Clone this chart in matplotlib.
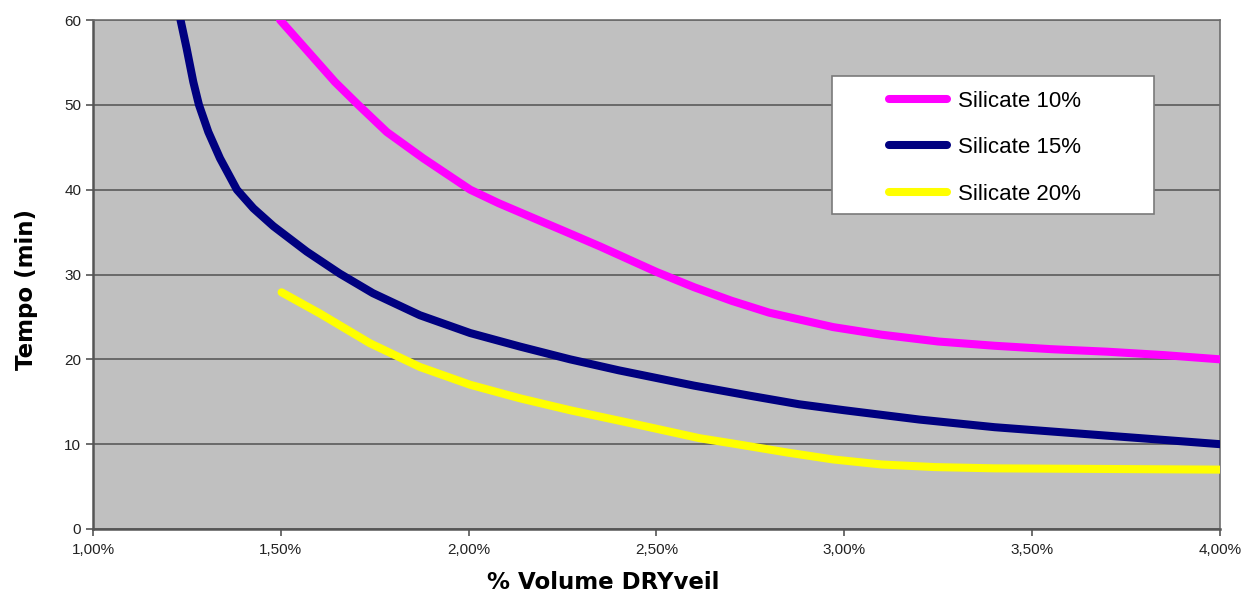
import matplotlib
matplotlib.use("Agg")
import matplotlib.pyplot as plt
from matplotlib.patches import Rectangle
from matplotlib.ticker import FuncFormatter, MultipleLocator

# values (x in % volume, y in minutes)
sil10_x = [1.498, 1.564, 1.644, 1.706, 1.782, 1.879, 2.004, 2.08, 2.17, 2.25, 2.35, 2.50, 2.60, 2.70, 2.80,
           2.97, 3.10, 3.25, 3.40, 3.55, 3.70, 3.85, 4.00]
sil10_y = [60.0, 56.7, 52.7, 50.0, 46.8, 43.7, 40.0, 38.4, 36.7, 35.2, 33.3, 30.3, 28.5, 26.9, 25.5,
           23.8, 22.9, 22.1, 21.6, 21.2, 20.9, 20.5, 20.0]

sil15_x = [1.233, 1.249, 1.267, 1.282, 1.307, 1.338, 1.383, 1.427, 1.480, 1.569, 1.657, 1.745, 1.870,
           2.004, 2.137, 2.270, 2.40, 2.50, 2.60, 2.75, 2.88, 3.00, 3.20, 3.40, 3.55, 3.70, 3.85, 4.00]
sil15_y = [60.0, 56.7, 52.7, 50.0, 46.8, 43.7, 40.0, 37.8, 35.7, 32.7, 30.1, 27.8, 25.2,
           23.1, 21.5, 20.0, 18.7, 17.8, 16.9, 15.7, 14.7, 14.0, 12.9, 12.0, 11.5, 11.0, 10.5, 10.0]

sil20_x = [1.502, 1.604, 1.737, 1.870, 2.004, 2.137, 2.270, 2.45, 2.615, 2.70, 2.85, 2.97, 3.10,
           3.24, 3.40, 3.60, 3.80, 4.00]
sil20_y = [27.9, 25.4, 21.9, 19.1, 17.0, 15.4, 14.0, 12.3, 10.7, 10.1, 9.0, 8.2, 7.6,
           7.3, 7.15, 7.1, 7.05, 7.0]

labels = ["Silicate 10%", "Silicate 15%", "Silicate 20%"]
colors = ["#ff00ff", "#000080", "#ffff00"]

fig = plt.figure(figsize=(12.5, 5.96), dpi=100)
ax = fig.add_axes([93 / 1250, 1 - 529 / 596, 1127 / 1250, 509 / 596])
ax.set_facecolor("#c0c0c0")

series = [(sil10_x, sil10_y), (sil15_x, sil15_y), (sil20_x, sil20_y)]
lines = []
for (xs, ys), lab, col in zip(series, labels, colors):
    ln, = ax.plot(xs, ys, color=col, lw=5.8, label=lab, solid_capstyle="round",
                  solid_joinstyle="round", zorder=3)
    lines.append(ln)

ax.set_xlim(1.0, 4.0)
ax.set_ylim(0, 60)
ax.xaxis.set_major_locator(MultipleLocator(0.5))
ax.yaxis.set_major_locator(MultipleLocator(10))
ax.xaxis.set_major_formatter(FuncFormatter(lambda v, p: f"{v:.2f}%".replace(".", ",")))
ax.grid(axis="y", color="#5a5a5a", lw=1.2, zorder=1)
ax.set_axisbelow(True)

for s in ax.spines.values():
    s.set_color("#6e6e6e")
    s.set_linewidth(1.2)
ax.spines["left"].set_color("#555555")
ax.spines["bottom"].set_color("#555555")
ax.spines["left"].set_linewidth(1.8)
ax.spines["bottom"].set_linewidth(1.8)

ax.tick_params(axis="both", direction="out", length=5, width=1.2, color="#555555",
               labelsize=11, labelcolor="#222222")
ax.tick_params(axis="x", pad=5)
for t in ax.get_xticklabels() + ax.get_yticklabels():
    t.set_fontfamily("Liberation Sans")

ax.set_xlabel("% Volume DRYveil", fontsize=16.5, fontweight="bold")
ax.set_ylabel("Tempo (min)", fontsize=16.5, fontweight="bold", labelpad=19)
ax.xaxis.set_label_coords(0.4525, -0.082)
ax.yaxis.label.set_y(0.4715)

# legend box like Excel
bx0 = (832 - 93) / 1127
by0 = (529 - 214) / 509
ax.add_patch(Rectangle((bx0, by0), 322 / 1127, 138 / 509, transform=ax.transAxes,
                       facecolor="white", edgecolor="#7a7a7a", lw=1.2, zorder=4))
leg = ax.legend(handles=lines, loc="upper left",
                bbox_to_anchor=((880 - 93) / 1127, (529 - 82) / 509),
                frameon=False, prop={"family": "Liberation Sans", "size": 16},
                handlelength=2.6, handletextpad=0.5, labelspacing=1.14, borderaxespad=0)
leg.set_zorder(5)

plt.savefig("out.png", dpi=100)
